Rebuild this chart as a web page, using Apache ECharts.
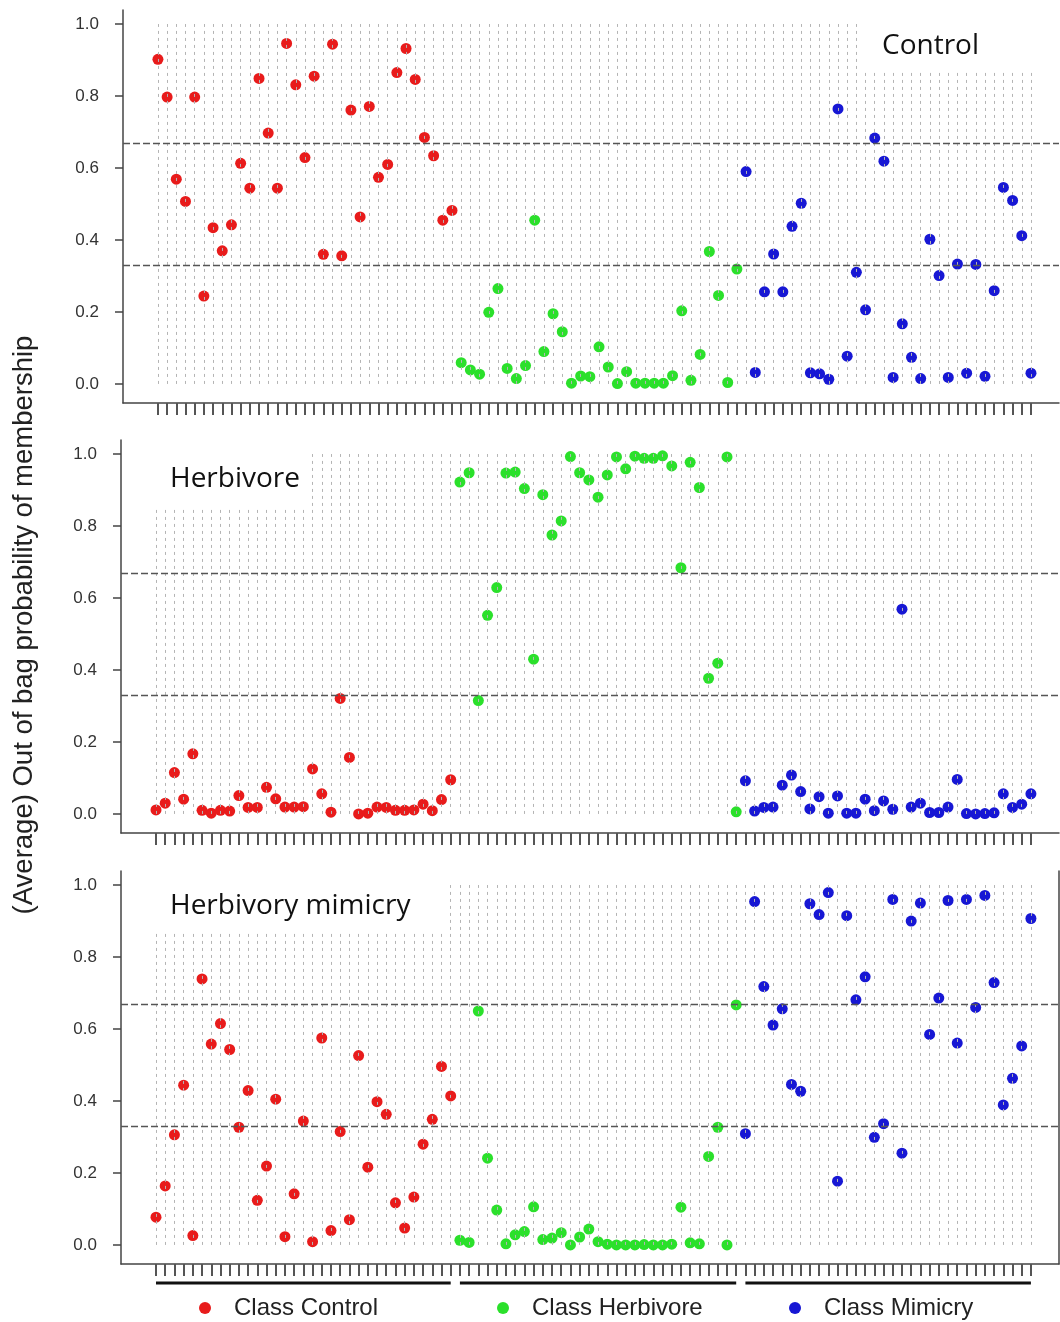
<!DOCTYPE html>
<html>
<head>
<meta charset="utf-8">
<title>Out of bag probability of membership</title>
<script src="https://cdn.jsdelivr.net/npm/echarts@6/dist/echarts.min.js"></script>
<style>
  html, body { margin: 0; padding: 0; background: #fff; }
  #main { width: 1060px; height: 1322px; }
</style>
</head>
<body>
<div id="main"></div>
<script>
// values, one array per panel and class (sample order left to right)
const topRed = [0.902, 0.797, 0.569, 0.507, 0.797, 0.244, 0.434, 0.370, 0.442, 0.613, 0.544, 0.849, 0.697, 0.544, 0.946, 0.831, 0.629, 0.855, 0.360, 0.944, 0.356, 0.761, 0.464, 0.771, 0.574, 0.610, 0.865, 0.932, 0.846, 0.685, 0.634, 0.455, 0.482];
const topGreen = [0.059, 0.039, 0.027, 0.199, 0.265, 0.043, 0.015, 0.051, 0.455, 0.090, 0.195, 0.145, 0.002, 0.022, 0.020, 0.103, 0.047, 0.001, 0.034, 0.002, 0.002, 0.002, 0.002, 0.023, 0.203, 0.010, 0.082, 0.368, 0.246, 0.004, 0.319];
const topBlue = [0.590, 0.032, 0.256, 0.361, 0.256, 0.438, 0.502, 0.031, 0.028, 0.013, 0.764, 0.077, 0.310, 0.206, 0.683, 0.619, 0.018, 0.167, 0.074, 0.015, 0.402, 0.301, 0.018, 0.333, 0.030, 0.332, 0.021, 0.259, 0.546, 0.510, 0.412, 0.030];

const midRed = [0.011, 0.030, 0.115, 0.041, 0.167, 0.010, 0.002, 0.010, 0.008, 0.051, 0.018, 0.018, 0.074, 0.042, 0.019, 0.019, 0.020, 0.125, 0.056, 0.005, 0.321, 0.157, 0.000, 0.002, 0.019, 0.018, 0.010, 0.010, 0.011, 0.027, 0.009, 0.040, 0.095];
const midGreen = [0.922, 0.948, 0.315, 0.552, 0.629, 0.947, 0.950, 0.904, 0.430, 0.887, 0.775, 0.814, 0.993, 0.948, 0.928, 0.880, 0.942, 0.992, 0.959, 0.994, 0.988, 0.988, 0.995, 0.967, 0.684, 0.977, 0.907, 0.377, 0.419, 0.992, 0.006];
const midBlue = [0.092, 0.008, 0.018, 0.019, 0.080, 0.108, 0.062, 0.014, 0.048, 0.002, 0.050, 0.002, 0.002, 0.041, 0.009, 0.036, 0.013, 0.569, 0.019, 0.030, 0.004, 0.004, 0.019, 0.096, 0.001, 0.000, 0.001, 0.003, 0.056, 0.018, 0.027, 0.056];

const botRed = [0.077, 0.164, 0.306, 0.444, 0.026, 0.739, 0.558, 0.615, 0.543, 0.327, 0.429, 0.124, 0.219, 0.405, 0.023, 0.142, 0.344, 0.009, 0.575, 0.040, 0.315, 0.070, 0.526, 0.216, 0.398, 0.363, 0.117, 0.047, 0.133, 0.280, 0.349, 0.496, 0.414];
const botGreen = [0.013, 0.007, 0.650, 0.241, 0.097, 0.003, 0.028, 0.037, 0.106, 0.015, 0.019, 0.034, 0.000, 0.022, 0.044, 0.009, 0.002, 0.000, 0.000, 0.000, 0.001, 0.000, 0.000, 0.002, 0.105, 0.006, 0.003, 0.246, 0.327, 0.000, 0.667];
const botBlue = [0.309, 0.954, 0.718, 0.611, 0.656, 0.446, 0.427, 0.948, 0.918, 0.979, 0.177, 0.915, 0.681, 0.745, 0.299, 0.337, 0.960, 0.255, 0.900, 0.950, 0.585, 0.686, 0.957, 0.561, 0.960, 0.660, 0.971, 0.729, 0.389, 0.463, 0.553, 0.907];

const panelNames = ['Control', 'Herbivore', 'Herbivory mimicry'];
const classNames = ['Class Control', 'Class Herbivore', 'Class Mimicry'];
const yTicks = [0, 0.2, 0.4, 0.6, 0.8, 1.0];
const thresholds = [1 / 3, 2 / 3];

const COLORS = ['#e81b1b', '#2be02b', '#1717d4'];
const X_MIN = -3.8;
const X_MAX = 98.05;
const Y_MIN = -0.053;
const Y_MAX = 1.039;

const panels = [
  [topRed, topGreen, topBlue],
  [midRed, midGreen, midBlue],
  [botRed, botGreen, botBlue],
];
const nSamples = topRed.length + topGreen.length + topBlue.length;
const sampleIdx = Array.from({ length: nSamples }, (_, i) => i);

const grids = [
  { left: 123, top: 10, width: 936, height: 393 },
  { left: 121, top: 440, width: 938, height: 393 },
  { left: 121, top: 871, width: 938, height: 393 },
  // strip under the last panel for the class bars
  { left: 121, top: 1281, width: 938, height: 4 },
];

const xAxes = [];
const yAxes = [];
const series = [];

panels.forEach((groups, p) => {
  xAxes.push({
    gridIndex : p,
    type      : 'value',
    min       : X_MIN,
    max       : X_MAX,
    axisLine  : { show: true, onZero: false, lineStyle: { color: '#444', width: 1.5 } },
    axisTick  : { show: true, customValues: sampleIdx, length: 12, lineStyle: { color: '#555', width: 2 } },
    axisLabel : { show: false },
    splitLine : { show: false },
  });
  yAxes.push({
    gridIndex : p,
    type      : 'value',
    min       : Y_MIN,
    max       : Y_MAX,
    axisLine  : { show: true, onZero: false, lineStyle: { color: '#444', width: 1.5 } },
    axisTick  : { show: true, customValues: yTicks, length: 8, lineStyle: { color: '#444', width: 1.5 } },
    axisLabel : {
      customValues : yTicks,
      margin       : 24,
      fontSize     : 17,
      fontFamily   : 'Liberation Sans',
      color        : '#333',
      formatter    : v => v.toFixed(1),
    },
    splitLine: { show: false },
  });

  // dotted sample guides + class thresholds
  series.push({
    type       : 'scatter',
    xAxisIndex : p,
    yAxisIndex : p,
    data       : [],
    z          : 1,
    silent     : true,
    markLine   : {
      silent    : true,
      animation : false,
      symbol    : ['none', 'none'],
      label     : { show: false },
      lineStyle : { color: '#b4b4b4', type: [3, 4], width: 1 },
      data      : sampleIdx.map(i => [{ coord: [i, 0] }, { coord: [i, 1] }]),
    },
  });
  series.push({
    type       : 'scatter',
    xAxisIndex : p,
    yAxisIndex : p,
    data       : [],
    z          : 1,
    silent     : true,
    markLine   : {
      silent    : true,
      animation : false,
      symbol    : ['none', 'none'],
      label     : { show: false },
      lineStyle : { color: '#555', type: [7, 3], width: 1.3 },
      data      : thresholds.map(t => ({ yAxis: t })),
    },
  });

  let offset = 0;
  groups.forEach((vals, c) => {
    const start = offset;
    series.push({
      name       : classNames[c],
      type       : 'scatter',
      xAxisIndex : p,
      yAxisIndex : p,
      symbolSize : 11,
      z          : 3,
      itemStyle  : { color: COLORS[c], opacity: 1 },
      data       : vals.map((v, i) => [start + i, v]),
    });
    offset += vals.length;
  });
});

// right frame of the last panel
yAxes.push({
  gridIndex : 2,
  type      : 'value',
  position  : 'right',
  min       : Y_MIN,
  max       : Y_MAX,
  axisLine  : { show: true, onZero: false, lineStyle: { color: '#444', width: 1.5 } },
  axisTick  : { show: false },
  axisLabel : { show: false },
  splitLine : { show: false },
});

// class bars under the bottom axis
xAxes.push({
  gridIndex : 3, type: 'value', min: X_MIN, max: X_MAX, show: false,
});
yAxes.push({
  gridIndex : 3, type: 'value', min: -1, max: 1, show: false,
});
let barStart = 0;
panels[2].forEach((vals) => {
  series.push({
    type       : 'line',
    xAxisIndex : 3,
    yAxisIndex : yAxes.length - 1,
    symbol     : 'none',
    silent     : true,
    lineStyle  : { color: '#111', width: 3 },
    data       : [[barStart, 0], [barStart + vals.length - 1, 0]],
  });
  barStart += vals.length;
});

const titleStyle = {
  fontSize   : 28,
  fontFamily : 'Open Sans',
  fontWeight : 'normal',
  color      : '#111',
  lineHeight : 30,
};

const myChart = echarts.init(document.getElementById('main'));
myChart.setOption({
  animation       : false,
  backgroundColor : '#fff',
  title           : [
    { text: panelNames[0], left: 858, top: 12, padding: [19, 60, 10, 24], backgroundColor: '#fff', textStyle: titleStyle },
    { text: panelNames[1], left: 126, top: 441, padding: [23, 12, 12, 44], backgroundColor: '#fff', textStyle: titleStyle },
    { text: panelNames[2], left: 126, top: 871, padding: [20, 39, 12, 44], backgroundColor: '#fff', textStyle: titleStyle },
  ],
  legend: classNames.map((name, c) => ({
    data         : [{ name, icon: 'circle' }],
    left         : [199, 497, 789][c],
    top          : 1296,
    padding      : 0,
    itemWidth    : 12,
    itemHeight   : 12,
    selectedMode : false,
    textStyle    : { fontSize: 24, fontFamily: 'Liberation Sans', color: '#222', padding: [0, 0, 0, 18] },
  })),
  grid   : grids,
  xAxis  : xAxes,
  yAxis  : yAxes,
  series : series,
  graphic: [{
    type     : 'text',
    x        : 24,
    y        : 625,
    rotation : Math.PI / 2,
    style    : {
      text          : '(Average) Out of bag probability of membership',
      fontSize      : 27.5,
      fontFamily    : 'Liberation Sans',
      fill          : '#222',
      align         : 'center',
      verticalAlign : 'middle',
    },
  }],
});
</script>
</body>
</html>
